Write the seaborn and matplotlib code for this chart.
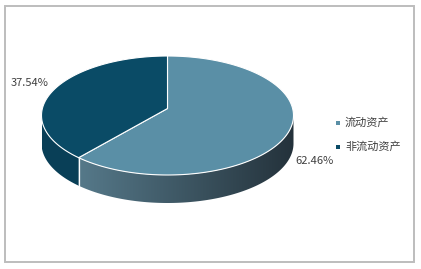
import numpy as np
import matplotlib
matplotlib.use("Agg")
import matplotlib.pyplot as plt
import seaborn as sns
from matplotlib.patches import Polygon, Rectangle
from matplotlib.colors import to_rgb

# ---- data ----
labels = ["流动资产", "非流动资产"]
values = [62.46, 37.54]
pct_labels = ["62.46%", "37.54%"]
top_colors = ["#5a8fa6", "#0a4b66"]
side_colors = [("#5e8597", "#24323b"), ("#0a4058", "#093a50")]

sns.set_style("white")
plt.rcParams["font.family"] = ["Noto Sans CJK SC", "DejaVu Sans"]

W, H = 421, 269
fig = plt.figure(figsize=(W / 100, H / 100), dpi=100)
ax = fig.add_axes([0, 0, 1, 1])
ax.set_xlim(0, W)
ax.set_ylim(H, 0)
ax.axis("off")

# frame
ax.add_patch(Rectangle((4.5, 5.5), 409, 256.5, fill=False, ec="#bdbdbd", lw=1.4))

cx, cy, rx, ry, depth = 167.5, 115.5, 126, 59.5, 28
vx, vy = 167.5, 108.5


def ept(theta_deg, dy=0.0):
    t = np.radians(theta_deg)
    return cx + rx * np.cos(t), cy - ry * np.sin(t) + dy


total = sum(values)
a_dark0 = 90.0
a_dark1 = 90.0 + 360.0 * values[1] / total
spans = [(a_dark1, 450.0), (a_dark0, a_dark1)]

# ---- side walls (front half: 180..360) with horizontal gradient ----
for i, (a0, a1) in enumerate(spans):
    s0, s1 = max(a0, 180.0), min(a1, 360.0)
    if s1 <= s0:
        continue
    ts = np.linspace(s0, s1, 120)
    top = [ept(t) for t in ts]
    bot = [ept(t, depth) for t in ts[::-1]]
    poly = Polygon(top + bot, closed=True, fc="none", ec="none")
    ax.add_patch(poly)
    c0, c1 = np.array(to_rgb(side_colors[i][0])), np.array(to_rgb(side_colors[i][1]))
    f = np.linspace(0, 1, 256)[None, :, None]
    img = c0 + (c1 - c0) * f
    img = np.repeat(img, 2, axis=0)
    im = ax.imshow(img, extent=(cx - rx, cx + rx, cy + ry + depth + 2, cy - 2),
                   aspect="auto", interpolation="bilinear", zorder=1)
    im.set_clip_path(poly)

# white seam on the side at the slice border
p = ept(a_dark1)
ax.plot([p[0], p[0]], [p[1], p[1] + depth], color="white", lw=0.9, zorder=2)

# ---- top surfaces ----
for i, (a0, a1) in enumerate(spans):
    ts = np.linspace(a0, a1, 200)
    pts = [(vx, vy)] + [ept(t) for t in ts]
    ax.add_patch(Polygon(pts, closed=True, fc=top_colors[i], ec="white", lw=0.8, zorder=3))

ax.set_xlim(0, W)
ax.set_ylim(H, 0)

# ---- percentage labels ----
ax.text(30, 83, pct_labels[1], ha="center", va="center", fontsize=8, color="#404040")
ax.text(314, 161, pct_labels[0], ha="center", va="center", fontsize=8, color="#404040")

# ---- legend ----
for j, (lab, yy) in enumerate(zip(labels, [123, 147])):
    ax.add_patch(Rectangle((336, yy - 2), 4, 4, fc=top_colors[j], ec="none"))
    ax.text(345, yy, lab, ha="left", va="center", fontsize=8, color="#404040")

fig.savefig("out.png", dpi=100)
